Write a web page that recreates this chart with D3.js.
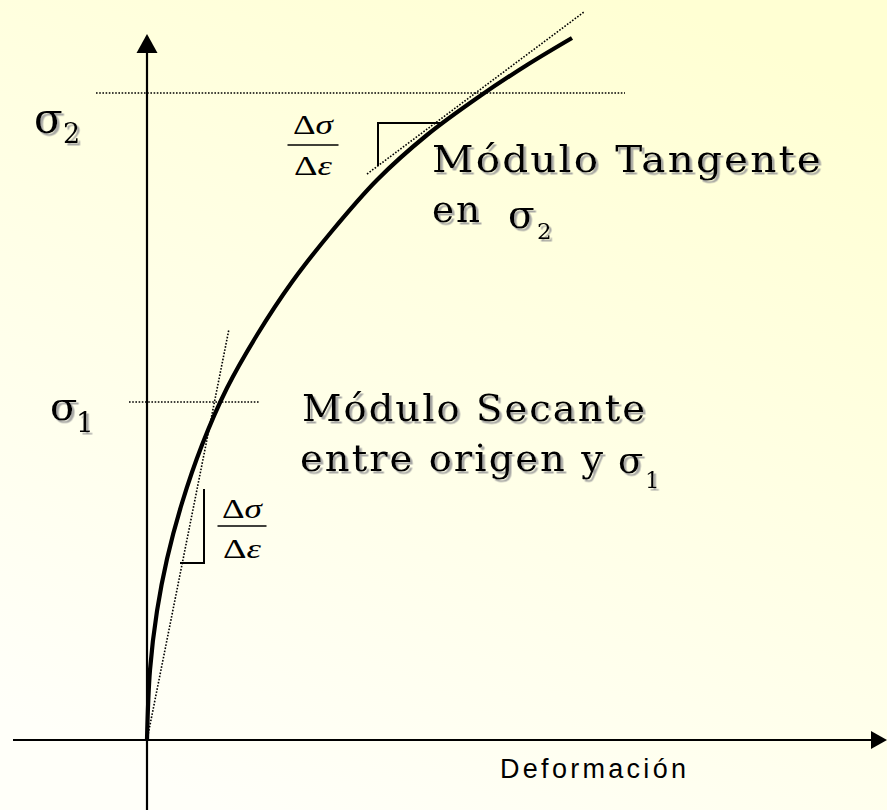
<!DOCTYPE html>
<html>
<head>
<meta charset="utf-8">
<script src="https://cdn.jsdelivr.net/npm/d3@7"></script>
<style>
  html, body { margin: 0; padding: 0; background: #fff; }
  svg { display: block; }
</style>
</head>
<body>
<svg id="chart"></svg>
<script>

// curva esfuerzo-deformacion (unidades arbitrarias)
var deformacion = [0, 0.3, 1.0, 2.0, 3.5, 5.5, 8.0, 11.0, 14.5, 18.5, 23.0, 28.0, 33.3, 38.0, 42.5];
var esfuerzo    = [0, 7.0, 12.9, 18.1, 23.7, 29.5, 35.2, 40.5, 45.8, 50.9, 56.0, 60.5, 64.4, 67.5, 70.2];

var sigma1 = 33.8;
var sigma2 = 64.7;

// rectas auxiliares
var secanteE = [0, 8.2];
var secanteS = [0, 41.1];
var tangenteE = [22.0, 43.7];
var tangenteS = [56.6, 72.8];

// extension de las lineas punteadas horizontales
var lineaSigma1 = [-1.8, 11.3];
var lineaSigma2 = [-5.1, 47.8];

// ejes
var ejeX = [-13.4, 74];
var ejeY = [-7, 70.6];

var width = 887;
var height = 810;

var x = d3.scaleLinear().domain([-14.7, 74]).range([0, 887]);
var y = d3.scaleLinear().domain([0, 74]).range([740, 0]);

var svg = d3.select('#chart').attr('width', width).attr('height', height);

var defs = svg.append('defs');
var grad = defs.append('linearGradient').attr('id', 'fondo')
  .attr('x1', 0.25).attr('y1', 1).attr('x2', 0.75).attr('y2', 0);
grad.append('stop').attr('offset', 0).attr('stop-color', '#fffff9');
grad.append('stop').attr('offset', 1).attr('stop-color', '#ffffd3');

var sombra = defs.append('filter').attr('id', 'sombra')
  .attr('x', '-10%').attr('y', '-20%').attr('width', '130%').attr('height', '150%');
sombra.append('feDropShadow')
  .attr('dx', 2.5).attr('dy', 2.5).attr('stdDeviation', 0.4)
  .attr('flood-color', '#9a9a9a').attr('flood-opacity', 0.85);

svg.append('rect').attr('width', width).attr('height', height).attr('fill', 'url(#fondo)');

var dotted = function(sel){
  return sel.attr('stroke', '#000').attr('stroke-width', 1.6)
    .attr('stroke-dasharray', '1.6,1.6').attr('fill', 'none');
};

// lineas horizontales de sigma
dotted(svg.append('line')
  .attr('x1', x(lineaSigma2[0])).attr('x2', x(lineaSigma2[1]))
  .attr('y1', y(sigma2)).attr('y2', y(sigma2)));

dotted(svg.append('line')
  .attr('x1', x(lineaSigma1[0])).attr('x2', x(lineaSigma1[1]))
  .attr('y1', y(sigma1)).attr('y2', y(sigma1)));

// secante y tangente
dotted(svg.append('line')
  .attr('x1', x(secanteE[0])).attr('y1', y(secanteS[0]))
  .attr('x2', x(secanteE[1])).attr('y2', y(secanteS[1])));

dotted(svg.append('line')
  .attr('x1', x(tangenteE[0])).attr('y1', y(tangenteS[0]))
  .attr('x2', x(tangenteE[1])).attr('y2', y(tangenteS[1])));

// ejes
var ejes = svg.append('g').attr('stroke', '#000').attr('stroke-width', 2.2);
ejes.append('line')
  .attr('x1', x(ejeX[0])).attr('x2', x(ejeX[1]) - 12)
  .attr('y1', y(0)).attr('y2', y(0));
ejes.append('line')
  .attr('x1', x(0)).attr('x2', x(0))
  .attr('y1', y(ejeY[0])).attr('y2', y(ejeY[1]) + 16);

var xTip = x(ejeX[1]), yTip = y(ejeY[1]);
svg.append('path')
  .attr('d', 'M' + xTip + ',' + y(0) + 'L' + (xTip - 16) + ',' + (y(0) - 9) + 'L' + (xTip - 16) + ',' + (y(0) + 9) + 'Z')
  .attr('fill', '#000');
svg.append('path')
  .attr('d', 'M' + x(0) + ',' + yTip + 'L' + (x(0) - 10.5) + ',' + (yTip + 19) + 'L' + (x(0) + 10.5) + ',' + (yTip + 19) + 'Z')
  .attr('fill', '#000');

// curva
var puntos = deformacion.map(function(d, i){ return [d, esfuerzo[i]]; });
var linea = d3.line()
  .x(function(d){ return x(d[0]); })
  .y(function(d){ return y(d[1]); })
  .curve(d3.curveCatmullRom.alpha(0.5));

svg.append('path')
  .datum(puntos)
  .attr('d', linea)
  .attr('fill', 'none')
  .attr('stroke', '#000')
  .attr('stroke-width', 4.2)
  .attr('stroke-linecap', 'butt');

// marcas de pendiente
var marcas = svg.append('g').attr('stroke', '#000').attr('stroke-width', 2).attr('fill', 'none');
marcas.append('path').attr('d', 'M378,166L378,123L441,123');
marcas.append('path').attr('d', 'M204,489L204,563L180,563');

function fraccion(cx, yNum, yBar, yDen, w){
  var g = svg.append('g').attr('font-family', '"Liberation Serif", "DejaVu Serif", serif')
    .attr('font-size', 27).attr('fill', '#000').attr('text-anchor', 'middle');
  var t1 = g.append('text').attr('x', cx).attr('y', yNum)
    .attr('textLength', 40).attr('lengthAdjust', 'spacingAndGlyphs');
  t1.append('tspan').text('Δ');
  t1.append('tspan').attr('font-style', 'italic').text('σ');
  g.append('line').attr('x1', cx - w / 2).attr('x2', cx + w / 2)
    .attr('y1', yBar).attr('y2', yBar).attr('stroke', '#000').attr('stroke-width', 1.5);
  var t2 = g.append('text').attr('x', cx).attr('y', yDen)
    .attr('textLength', 38).attr('lengthAdjust', 'spacingAndGlyphs');
  t2.append('tspan').text('Δ');
  t2.append('tspan').attr('font-style', 'italic').text('ε');
}
fraccion(313, 134, 145, 175, 51);
fraccion(242, 518, 526, 558, 49);

// textos con sombra
var serif = '"DejaVu Serif", "Liberation Serif", serif';

function texto(px, py, str, size, len){
  var t = svg.append('text')
    .attr('x', px).attr('y', py)
    .attr('font-family', serif).attr('font-size', size)
    .attr('filter', 'url(#sombra)')
    .attr('fill', '#000').text(str);
  if (len) {
    t.attr('letter-spacing', 2)
      .attr('textLength', len).attr('lengthAdjust', 'spacingAndGlyphs');
  }
  return t;
}

texto(34, 133, 'σ', 42);
texto(63, 143, '2', 27);
texto(50, 420, 'σ', 40);
texto(76, 432, '1', 28);

texto(432, 172, 'Módulo Tangente', 38, 391);
texto(432, 222, 'en', 38, 50);
texto(508, 228, 'σ', 39);
texto(537, 239, '2', 23);

texto(302, 421, 'Módulo Secante', 38, 345);
texto(300, 471, 'entre origen y', 38, 305);
texto(618, 473, 'σ', 37);
texto(645, 488, '1', 23);

svg.append('text')
  .attr('x', 500).attr('y', 778)
  .attr('font-family', '"Liberation Sans", Arial, sans-serif')
  .attr('font-size', 27)
  .attr('textLength', 186).attr('lengthAdjust', 'spacing')
  .attr('fill', '#000')
  .text('Deformación');

</script>
</body>
</html>
